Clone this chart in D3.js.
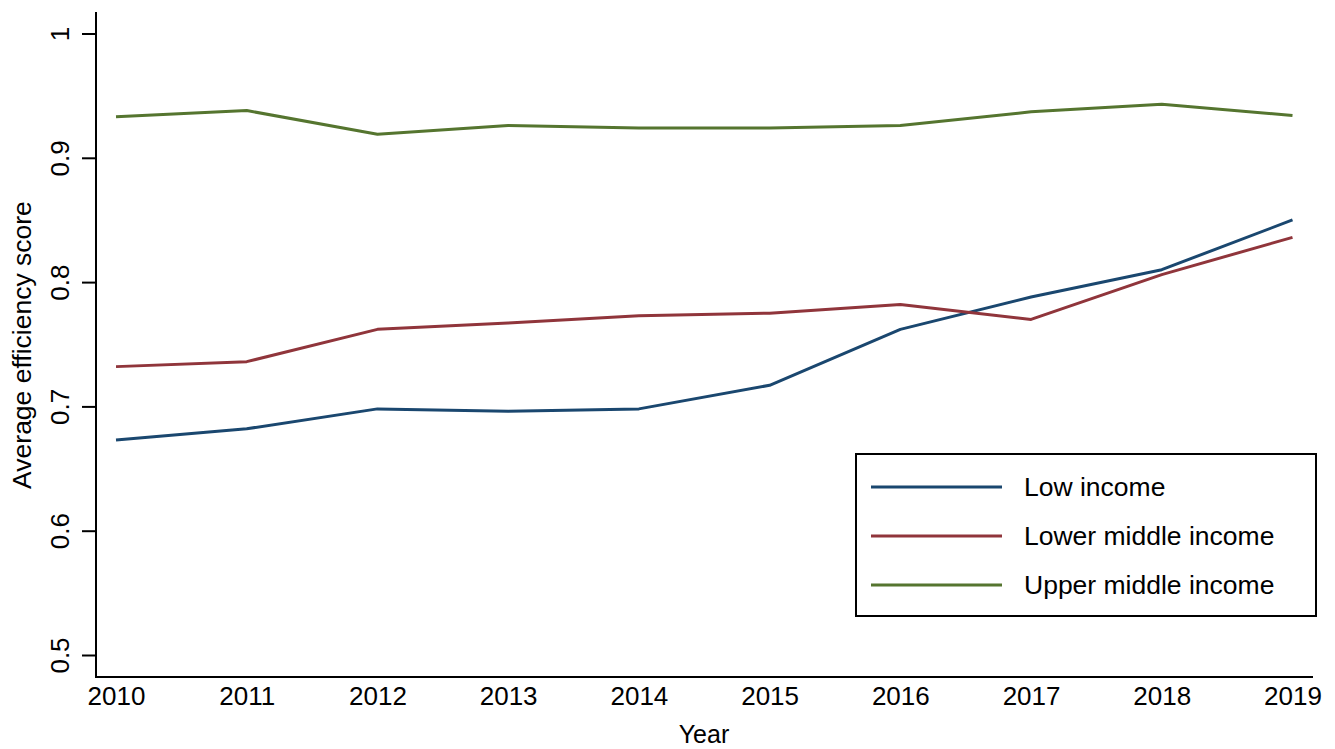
<!DOCTYPE html>
<html><head><meta charset="utf-8">
<script src="https://cdn.jsdelivr.net/npm/d3@7"></script>
<style>body{margin:0;background:#fff;} svg{display:block;font-family:"Liberation Sans",Arial,sans-serif;}</style>
</head><body>
<svg id="c" width="1335" height="749"></svg>
<script>
const years = [2010,2011,2012,2013,2014,2015,2016,2017,2018,2019];
const lowIncome = [0.673,0.682,0.698,0.696,0.698,0.717,0.762,0.788,0.810,0.850];
const lowerMiddle = [0.732,0.736,0.762,0.767,0.773,0.775,0.782,0.770,0.806,0.836];
const upperMiddle = [0.933,0.938,0.919,0.926,0.924,0.924,0.926,0.937,0.943,0.934];
const yTicks = [0.5,0.6,0.7,0.8,0.9,1];
const seriesNames = ["Low income","Lower middle income","Upper middle income"];
const seriesColors = ["#1a476f","#90353b","#55752f"];
const seriesValues = [lowIncome, lowerMiddle, upperMiddle];

const svg = d3.select("#c");
const x = d3.scaleLinear().domain([2010,2019]).range([116,1292.5]);
const y = d3.scaleLinear().domain([0.5,1]).range([655,33.5]);

// axes
const yAxisG = svg.append("g").attr("transform","translate(96,0)")
  .call(d3.axisLeft(y).tickValues(yTicks).tickFormat(d3.format("~g")).tickSize(14).tickSizeOuter(0));
yAxisG.select(".domain").remove();
yAxisG.selectAll(".tick line").attr("stroke","#000").attr("stroke-width",2);
yAxisG.selectAll(".tick text").attr("font-size",26).attr("fill","#000")
  .attr("x",null).attr("dy",null)
  .attr("text-anchor","middle")
  .attr("transform","translate(-27,0) rotate(-90)");
svg.append("line").attr("x1",96).attr("x2",96).attr("y1",12).attr("y2",678).attr("stroke","#000").attr("stroke-width",2);

const xAxisG = svg.append("g").attr("transform","translate(0,677)")
  .call(d3.axisBottom(x).tickValues(years).tickFormat(d3.format("d")).tickSize(0).tickPadding(10));
xAxisG.select(".domain").remove();
xAxisG.selectAll(".tick text").attr("font-size",26).attr("fill","#000");
svg.append("line").attr("x1",95).attr("x2",1313).attr("y1",677).attr("y2",677).attr("stroke","#000").attr("stroke-width",2);

// titles
svg.append("text").attr("x",704).attr("y",743).attr("text-anchor","middle").attr("font-size",25).text("Year");
svg.append("text").attr("transform","translate(31,345) rotate(-90)").attr("text-anchor","middle").attr("font-size",26.5).text("Average efficiency score");

// lines
const line = d3.line().x((d,i)=>x(years[i])).y(d=>y(d));
seriesValues.forEach((vals,k)=>{
  svg.append("path").datum(vals).attr("d",line).attr("fill","none")
    .attr("stroke",seriesColors[k]).attr("stroke-width",3).attr("stroke-linejoin","round");
});

// legend
const lg = svg.append("g");
lg.append("rect").attr("x",856).attr("y",454).attr("width",460).attr("height",162)
  .attr("fill","#fff").attr("stroke","#000").attr("stroke-width",2);
seriesNames.forEach((n,k)=>{
  const yy = 487 + k*49;
  lg.append("line").attr("x1",871).attr("x2",1002).attr("y1",yy).attr("y2",yy)
    .attr("stroke",seriesColors[k]).attr("stroke-width",3);
  lg.append("text").attr("x",1024).attr("y",yy+9).attr("font-size",26.5).text(n);
});
</script>
</body></html>
